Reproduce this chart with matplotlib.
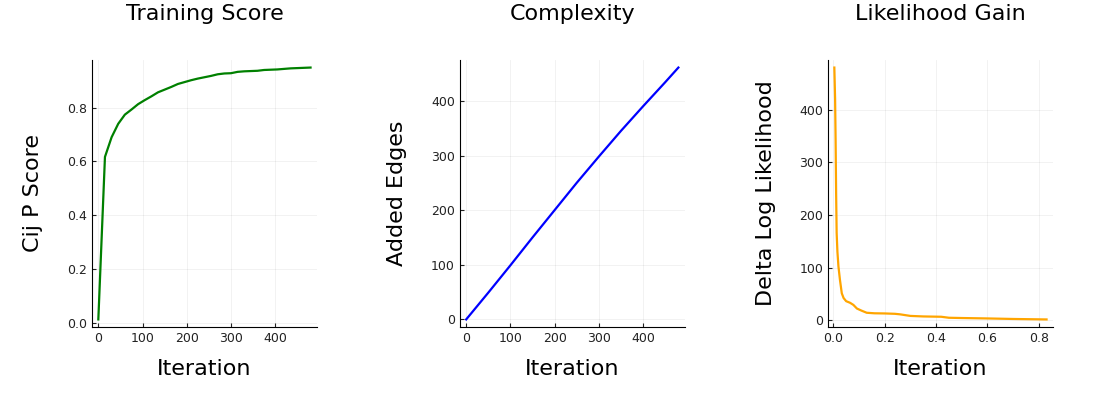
import matplotlib
matplotlib.use("Agg")
import matplotlib.pyplot as plt
from matplotlib.ticker import MultipleLocator

# training score
score_iter = [0, 15, 30, 45, 60, 75, 90, 105, 120, 135, 150, 165, 180, 195, 210,
              225, 240, 255, 270, 285, 300, 315, 330, 345, 360, 375, 390, 405,
              420, 435, 450, 465, 480]
score_vals = [0.013, 0.617, 0.69, 0.74, 0.774, 0.793, 0.813, 0.828, 0.842, 0.857,
              0.867, 0.877, 0.888, 0.895, 0.902, 0.908, 0.913, 0.918, 0.924,
              0.927, 0.928, 0.933, 0.935, 0.936, 0.937, 0.940, 0.941, 0.942,
              0.944, 0.946, 0.947, 0.948, 0.949]

# complexity
edge_iter = [0, 50, 100, 150, 200, 250, 300, 350, 400, 450, 480]
edge_vals = [0, 49, 99, 150, 200, 250, 298, 345, 390, 434, 461]

# likelihood gain
gain_x = [0.004, 0.007, 0.009, 0.011, 0.013, 0.016, 0.02, 0.026, 0.033, 0.04,
          0.05, 0.065, 0.078, 0.092, 0.11, 0.13, 0.16, 0.2, 0.24, 0.26, 0.3,
          0.35, 0.42, 0.45, 0.5, 0.6, 0.7, 0.83]
gain_y = [480, 420, 340, 240, 166, 130, 102, 76, 51, 42, 36, 33, 29, 22, 18,
          14, 13, 12.7, 12, 11, 8, 7, 6.4, 4.5, 4, 3.2, 2.2, 1.3]

panels = [
    ("Training Score", "Cij P Score", score_iter, score_vals, "green", 100, 0.2),
    ("Complexity", "Added Edges", edge_iter, edge_vals, "blue", 100, 100),
    ("Likelihood Gain", "Delta Log Likelihood", gain_x, gain_y, "orange", 0.2, 100),
]
lefts = [0.0836, 0.418, 0.7527]

fig = plt.figure(figsize=(11, 4), dpi=100)
for (title, ylabel, x, y, color, xstep, ystep), left in zip(panels, lefts):
    ax = fig.add_axes([left, 0.1825, 0.2045, 0.6675])
    ax.plot(x, y, color=color, lw=1.6)
    # Plots.jl style 3% padding
    xr = max(x) - min(x)
    yr = max(y) - min(y)
    ax.set_xlim(min(x) - 0.03 * xr, max(x) + 0.03 * xr)
    ax.set_ylim(min(y) - 0.03 * yr, max(y) + 0.03 * yr)
    ax.xaxis.set_major_locator(MultipleLocator(xstep))
    ax.yaxis.set_major_locator(MultipleLocator(ystep))
    ax.set_title(title, fontsize=16, pad=29)
    ax.set_xlabel("Iteration", fontsize=16, labelpad=10)
    ax.set_ylabel(ylabel, fontsize=16, labelpad=17)
    ax.grid(True, color="black", alpha=0.06, lw=0.6)
    for s in ["top", "right"]:
        ax.spines[s].set_visible(False)
    ax.tick_params(direction="in", length=3, labelsize=9, colors="#222222")

fig.savefig("out.png", dpi=100)
